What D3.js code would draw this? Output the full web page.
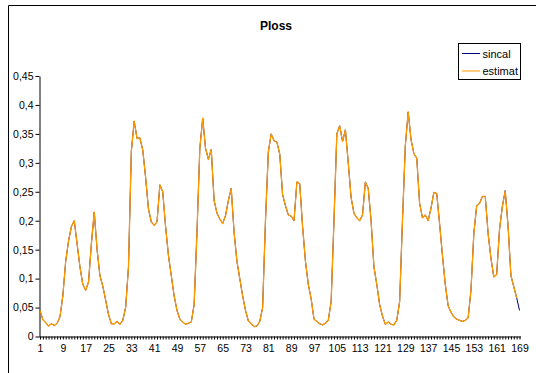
<!DOCTYPE html>
<html>
<head>
<meta charset="utf-8">
<script src="https://cdn.jsdelivr.net/npm/d3@7"></script>
<style>
  html, body { margin: 0; padding: 0; background: #fff; }
  svg { display: block; }
  text { font-family: "Liberation Sans", Arial, sans-serif; fill: #000; }
</style>
</head>
<body>
<svg id="chart" width="536" height="373"></svg>
<script>
// Hourly power loss over one week (169 hours)
const hours = d3.range(1, 170);

const sincal = [
  0.045, 0.029, 0.024, 0.018, 0.022, 0.019, 0.023, 0.034, 0.07, 0.13,
  0.165, 0.19, 0.2, 0.16, 0.12, 0.09, 0.08, 0.094, 0.16, 0.215,
  0.15, 0.105, 0.087, 0.063, 0.038, 0.022, 0.022, 0.026, 0.021, 0.028,
  0.05, 0.12, 0.32, 0.372, 0.342, 0.343, 0.322, 0.275, 0.22, 0.198,
  0.192, 0.198, 0.262, 0.25, 0.19, 0.14, 0.105, 0.07, 0.045, 0.03,
  0.025, 0.021, 0.023, 0.025, 0.055, 0.18, 0.325, 0.377, 0.325, 0.306,
  0.323, 0.235, 0.213, 0.203, 0.195, 0.209, 0.235, 0.256, 0.18, 0.13,
  0.1, 0.07, 0.045, 0.027, 0.022, 0.017, 0.018, 0.026, 0.05, 0.2,
  0.319, 0.35, 0.338, 0.336, 0.315, 0.245, 0.226, 0.21, 0.208, 0.2,
  0.267, 0.264, 0.19, 0.13, 0.09, 0.065, 0.03, 0.026, 0.022, 0.02,
  0.023, 0.028, 0.06, 0.2, 0.35, 0.364, 0.337, 0.357, 0.3, 0.24,
  0.213, 0.205, 0.2, 0.21, 0.267, 0.256, 0.2, 0.12, 0.09, 0.055,
  0.035, 0.021, 0.025, 0.021, 0.02, 0.028, 0.06, 0.2, 0.33, 0.388,
  0.34, 0.316, 0.308, 0.23, 0.205, 0.21, 0.2, 0.222, 0.249, 0.247,
  0.195, 0.14, 0.09, 0.053, 0.042, 0.034, 0.03, 0.028, 0.026, 0.028,
  0.032, 0.08, 0.178, 0.226, 0.23, 0.242, 0.242, 0.178, 0.135, 0.103,
  0.107, 0.185, 0.225, 0.252, 0.19, 0.105, 0.086, 0.067, 0.045
];

const estimat = [
  0.045, 0.029, 0.024, 0.018, 0.022, 0.019, 0.023, 0.034, 0.07, 0.13,
  0.165, 0.19, 0.2, 0.16, 0.12, 0.09, 0.08, 0.094, 0.16, 0.215,
  0.15, 0.105, 0.087, 0.063, 0.038, 0.022, 0.022, 0.026, 0.021, 0.028,
  0.05, 0.12, 0.32, 0.372, 0.342, 0.343, 0.322, 0.275, 0.22, 0.198,
  0.192, 0.198, 0.262, 0.25, 0.19, 0.14, 0.105, 0.07, 0.045, 0.03,
  0.025, 0.021, 0.023, 0.025, 0.055, 0.18, 0.325, 0.377, 0.325, 0.306,
  0.323, 0.235, 0.213, 0.203, 0.195, 0.209, 0.235, 0.256, 0.18, 0.13,
  0.1, 0.07, 0.045, 0.027, 0.022, 0.017, 0.018, 0.026, 0.05, 0.2,
  0.319, 0.35, 0.338, 0.336, 0.315, 0.245, 0.226, 0.21, 0.208, 0.2,
  0.267, 0.264, 0.19, 0.13, 0.09, 0.065, 0.03, 0.026, 0.022, 0.02,
  0.023, 0.028, 0.06, 0.2, 0.35, 0.364, 0.337, 0.357, 0.3, 0.24,
  0.213, 0.205, 0.2, 0.21, 0.267, 0.256, 0.2, 0.12, 0.09, 0.055,
  0.035, 0.021, 0.025, 0.021, 0.02, 0.028, 0.06, 0.2, 0.33, 0.388,
  0.34, 0.316, 0.308, 0.23, 0.205, 0.21, 0.2, 0.222, 0.249, 0.247,
  0.195, 0.14, 0.09, 0.053, 0.042, 0.034, 0.03, 0.028, 0.026, 0.028,
  0.032, 0.08, 0.178, 0.226, 0.23, 0.242, 0.242, 0.178, 0.135, 0.103,
  0.107, 0.185, 0.225, 0.252, 0.19, 0.105, 0.086, 0.067
];

const xTickLabels = [1, 9, 17, 25, 33, 41, 49, 57, 65, 73, 81, 89, 97, 105, 113, 121, 129, 137, 145, 153, 161, 169];
const yTicks = [0, 0.05, 0.1, 0.15, 0.2, 0.25, 0.3, 0.35, 0.4, 0.45];

const seriesNames = ["sincal", "estimat"];
const seriesColors = ["#000080", "#FF9900"];

const svg = d3.select("#chart");

// chart area frame (open to the right and bottom)
svg.append("path")
  .attr("d", "M8.5,373 L8.5,5.5 L536,5.5")
  .attr("fill", "none")
  .attr("stroke", "#000")
  .attr("stroke-width", 1);

// title
svg.append("text")
  .attr("x", 276)
  .attr("y", 29.5)
  .attr("text-anchor", "middle")
  .style("font-size", "12px")
  .style("font-weight", "bold")
  .text("Ploss");

const x = d3.scalePoint().domain(hours).range([40, 519.5]);
const y = d3.scaleLinear().domain([0, 0.45]).range([336.5, 76]);

const fmt = d => String(+d.toFixed(2)).replace(".", ",");

// y axis
const yAxis = svg.append("g")
  .attr("transform", "translate(39.5,0)")
  .call(d3.axisLeft(y).tickValues(yTicks).tickFormat(fmt).tickSize(4).tickSizeOuter(0).tickPadding(2));
yAxis.select(".domain").attr("stroke", "#000");
yAxis.selectAll(".tick line").attr("stroke", "#000");
yAxis.selectAll("text").style("font-size", "10.5px").attr("fill", "#000")
  .style("font-family", "'Liberation Sans', Arial, sans-serif");

// x axis: a tick for every hour, a label every 8 hours
const xAxis = svg.append("g")
  .attr("transform", "translate(0,336.5)")
  .call(d3.axisBottom(x).tickValues(hours).tickSize(3).tickSizeOuter(0).tickPadding(5)
    .tickFormat(d => xTickLabels.includes(d) ? d : ""));
xAxis.select(".domain").attr("stroke", "#000").attr("d", "M39.5,0.5H521");
xAxis.selectAll(".tick line").attr("stroke", "#000");
xAxis.selectAll("text").style("font-size", "10.5px").attr("fill", "#000")
  .style("font-family", "'Liberation Sans', Arial, sans-serif");

// series lines
const line = d3.line()
  .x((d, i) => x(hours[i]))
  .y(d => y(d));

svg.append("path")
  .datum(sincal)
  .attr("d", line)
  .attr("fill", "none")
  .attr("stroke", seriesColors[0])
  .attr("stroke-width", 1)
  .attr("stroke-linejoin", "round");

svg.append("path")
  .datum(estimat)
  .attr("d", line)
  .attr("fill", "none")
  .attr("stroke", seriesColors[1])
  .attr("stroke-width", 1.3)
  .attr("stroke-linejoin", "round");

// legend
const legend = svg.append("g");
legend.append("rect")
  .attr("x", 458.5).attr("y", 43.5)
  .attr("width", 62).attr("height", 36)
  .attr("fill", "#fff")
  .attr("stroke", "#000")
  .attr("stroke-width", 1);

seriesNames.forEach((name, i) => {
  const ly = 53.5 + i * 17.5;
  legend.append("line")
    .attr("x1", 462).attr("x2", 480)
    .attr("y1", ly).attr("y2", ly)
    .attr("stroke", seriesColors[i])
    .attr("stroke-width", 1);
  legend.append("text")
    .attr("x", 482.5)
    .attr("y", ly + 4)
    .style("font-size", "11px")
    .text(name);
});
</script>
</body>
</html>
